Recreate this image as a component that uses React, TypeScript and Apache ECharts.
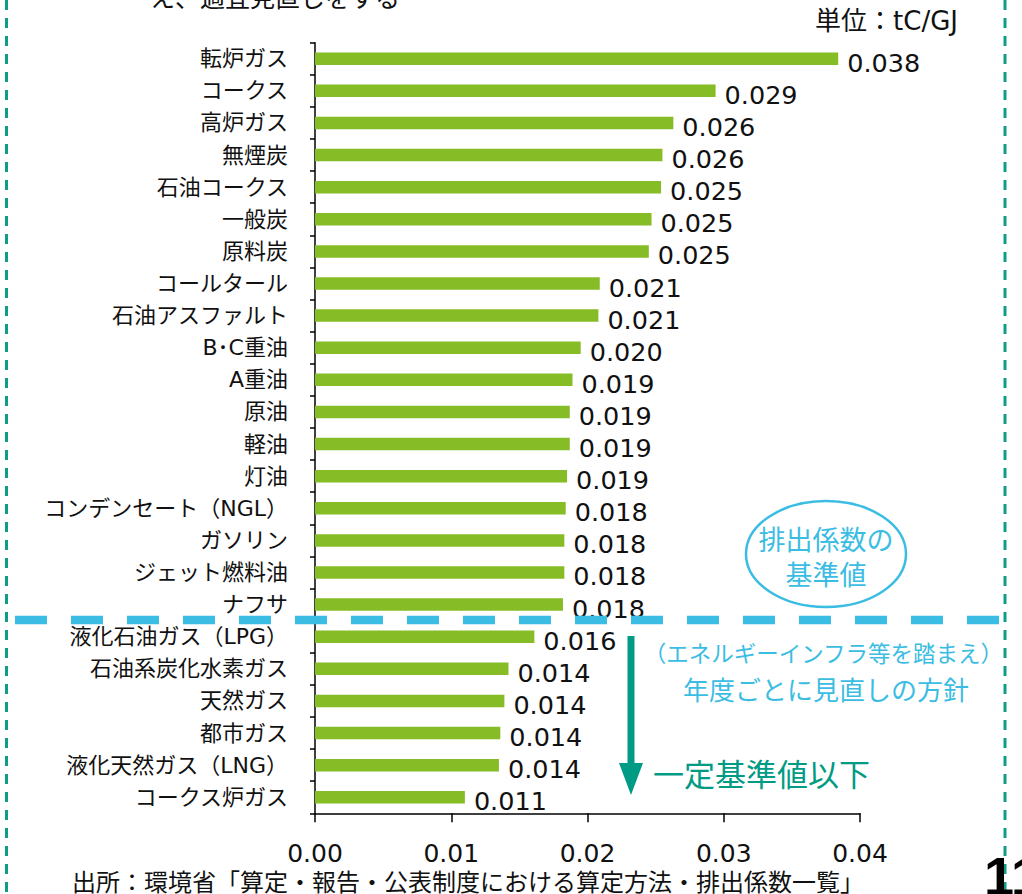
import React, { useEffect, useRef } from "react";
import * as echarts from "echarts";

const categories = [
  "転炉ガス", "コークス", "高炉ガス", "無煙炭", "石油コークス", "一般炭", "原料炭",
  "コールタール", "石油アスファルト", "B･C重油", "A重油", "原油", "軽油", "灯油",
  "コンデンセート（NGL）", "ガソリン", "ジェット燃料油", "ナフサ",
  "液化石油ガス（LPG）", "石油系炭化水素ガス", "天然ガス", "都市ガス",
  "液化天然ガス（LNG）", "コークス炉ガス",
];
const values = [
  0.0384, 0.0294, 0.0263, 0.0255, 0.0254, 0.0247, 0.0245,
  0.0209, 0.0208, 0.0195, 0.0189, 0.0187, 0.0187, 0.0185,
  0.0184, 0.0183, 0.0183, 0.0182,
  0.0161, 0.0142, 0.0139, 0.0136, 0.0135, 0.011,
];
const xTicks = { min: 0, max: 0.04, interval: 0.01 };

const JP = "'Noto Sans CJK JP', sans-serif";
const LAT = "'DejaVu Sans', 'Noto Sans CJK JP', sans-serif";
const TEAL = "#0E9E86";
const BLUE = "#3BBDE3";

function fmt3(v: number) {
  const q = Math.round(Math.round(v * 10000) / 10);
  return (q / 1000).toFixed(3);
}

export default function App() {
  const ref = useRef<HTMLDivElement>(null);
  useEffect(() => {
    document.body.style.margin = "0";
    const chart = echarts.init(ref.current!, null, { renderer: "svg" });
    chart.setOption({
      animation: false,
      backgroundColor: "#ffffff",
      grid: { left: 315, top: 42.7, right: 162, bottom: 80.7, containLabel: false },
      xAxis: {
        type: "value",
        min: xTicks.min,
        max: xTicks.max,
        interval: xTicks.interval,
        splitLine: { show: false },
        axisLine: { show: true, lineStyle: { color: "#000", width: 1.5 } },
        axisTick: { show: true, length: 9, lineStyle: { color: "#000", width: 1.5 } },
        axisLabel: {
          margin: 29,
          fontSize: 25,
          lineHeight: 22,
          fontFamily: LAT,
          color: "#111",
          formatter: (v: number) => v.toFixed(2),
        },
      },
      yAxis: {
        type: "category",
        inverse: true,
        data: categories,
        axisLine: { show: true, lineStyle: { color: "#000", width: 1.5 } },
        axisTick: { show: true, length: 5, lineStyle: { color: "#000", width: 1.5 } },
        axisLabel: {
          margin: 27,
          fontSize: 22,
          fontFamily: LAT,
          color: "#111",
          interval: 0,
        },
      },
      series: [
        {
          type: "bar",
          data: values,
          barWidth: 12.5,
          itemStyle: { color: "#86BC25" },
          label: {
            show: true,
            position: "right",
            distance: 9,
            offset: [0, 4],
            fontSize: 25.5,
            fontFamily: LAT,
            color: "#111",
            formatter: (p: any) => fmt3(p.value),
          },
        },
      ],
      graphic: [
        { type: "line", shape: { x1: 6.5, y1: 0, x2: 6.5, y2: 894 }, style: { stroke: TEAL, lineWidth: 3, lineDash: [10, 8] } },
        { type: "line", shape: { x1: 1005, y1: 0, x2: 1005, y2: 894 }, style: { stroke: TEAL, lineWidth: 3, lineDash: [10, 8] } },
        { type: "line", z: 100, shape: { x1: 15, y1: 620, x2: 1000, y2: 620 }, style: { stroke: BLUE, lineWidth: 8.5, lineDash: [32, 24] } },
        {
          type: "text",
          style: { text: "え、適宜見直しをする", x: 150, y: -4, fontSize: 25, fontFamily: JP, fill: "#111", align: "left", verticalAlign: "middle" },
        },
        {
          type: "text",
          style: { text: "単位：tC/GJ", x: 958, y: 21, fontSize: 26, fontFamily: LAT, fill: "#111", align: "right", verticalAlign: "middle" },
        },
        { type: "ellipse", shape: { cx: 826, cy: 554, rx: 80, ry: 53 }, style: { fill: "none", stroke: BLUE, lineWidth: 2.5 } },
        {
          type: "text",
          style: { text: "排出係数の", x: 826, y: 538, fontSize: 27, fontFamily: JP, fill: BLUE, align: "center", verticalAlign: "middle" },
        },
        {
          type: "text",
          style: { text: "基準値", x: 826, y: 573, fontSize: 27, fontFamily: JP, fill: BLUE, align: "center", verticalAlign: "middle" },
        },
        {
          type: "text",
          style: { text: "（エネルギーインフラ等を踏まえ）", x: 1003, y: 652, fontSize: 22.5, fontFamily: JP, fill: BLUE, align: "right", verticalAlign: "middle" },
        },
        {
          type: "text",
          style: { text: "年度ごとに見直しの方針", x: 826, y: 688, fontSize: 26, fontFamily: JP, fill: BLUE, align: "center", verticalAlign: "middle" },
        },
        { type: "rect", shape: { x: 627.5, y: 636, width: 7, height: 128 }, style: { fill: "#009B84" } },
        { type: "polygon", shape: { points: [[619, 763], [643, 763], [631, 795]] }, style: { fill: "#009B84" } },
        {
          type: "text",
          style: { text: "一定基準値以下", x: 653, y: 772, fontSize: 31, fontFamily: JP, fill: "#009B84", align: "left", verticalAlign: "middle" },
        },
        {
          type: "text",
          style: { text: "出所：環境省「算定・報告・公表制度における算定方法・排出係数一覧」", x: 72, y: 880, fontSize: 24, lineHeight: 24, fontFamily: JP, fill: "#111", align: "left", verticalAlign: "middle" },
        },
        {
          type: "text",
          style: { text: "11", x: 984, y: 876, fontSize: 54, fontWeight: "bold", fontFamily: "'Liberation Sans', Arial, sans-serif", fill: "#000", align: "left", verticalAlign: "middle" },
        },
      ],
    });
    return () => chart.dispose();
  }, []);
  return <div ref={ref} style={{ width: 1022, height: 894 }} />;
}
